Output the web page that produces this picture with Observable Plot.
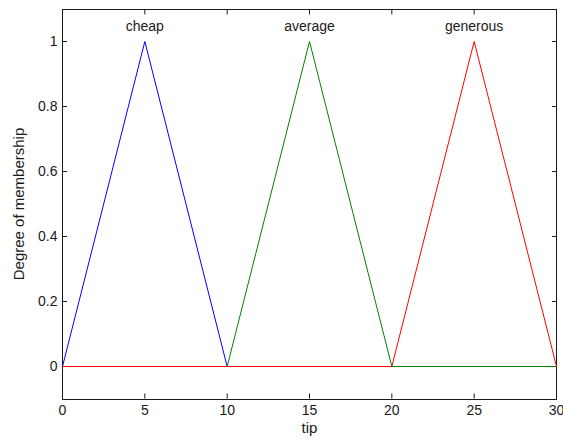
<!DOCTYPE html>
<html>
<head>
<meta charset="utf-8">
<script src="https://cdn.jsdelivr.net/npm/d3@7"></script>
<script src="https://cdn.jsdelivr.net/npm/@observablehq/plot@0.6"></script>
<style>
  html, body { margin: 0; padding: 0; background: #fff; }
  #chart svg { display: block; }
</style>
</head>
<body>
<div id="chart"></div>
<script>
// Membership function breakpoints (tip, degree)
const cheapX = [0, 5, 10, 30];
const cheapY = [0, 1, 0, 0];
const averageX = [0, 10, 15, 20, 30];
const averageY = [0, 0, 1, 0, 0];
const generousX = [0, 20, 25, 30];
const generousY = [0, 0, 1, 0];

const mfNames = ["cheap", "average", "generous"];
const mfPeaks = [5, 15, 25];
const mfColors = ["#0000ff", "#008000", "#ff0000"];

const xTicks = [0, 5, 10, 15, 20, 25, 30];
const yTicks = [0, 0.2, 0.4, 0.6, 0.8, 1];

const toPts = (xs, ys) => xs.map((x, i) => ({x, y: ys[i]}));
const cheap = toPts(cheapX, cheapY);
const average = toPts(averageX, averageY);
const generous = toPts(generousX, generousY);
const labels = mfNames.map((name, i) => ({name, x: mfPeaks[i], y: 1.045}));

const fontFamily = "'Liberation Sans', Arial, sans-serif";

const chart = Plot.plot({
  width: 563,
  height: 441,
  marginLeft: 62,
  marginRight: 7,
  marginTop: 8.5,
  marginBottom: 42.5,
  style: {fontFamily, fontSize: "14px", color: "#1a1a1a", background: "#fff"},
  x: {domain: [0, 30]},
  y: {domain: [-0.1, 1.1]},
  marks: [
    Plot.frame({stroke: "#1a1a1a", strokeWidth: 1, shapeRendering: "crispEdges"}),
    Plot.axisX(xTicks, {anchor: "bottom", tickSize: -5, tickPadding: 11, fontSize: 14, label: null}),
    Plot.axisX({anchor: "bottom", ticks: [], label: "tip", labelAnchor: "center", labelOffset: 34, labelArrow: false, fontSize: 15}),
    Plot.axisX(xTicks, {anchor: "top", tickSize: -5, tickFormat: () => "", label: null}),
    Plot.axisY(yTicks, {anchor: "left", tickSize: -5, tickPadding: 10, tickFormat: d => String(d), fontSize: 14, label: null}),
    Plot.axisY({anchor: "left", ticks: [], label: "Degree of membership", labelAnchor: "center", labelOffset: 49, labelArrow: false, fontSize: 15}),
    Plot.axisY(yTicks, {anchor: "right", tickSize: -5, tickFormat: () => "", label: null}),
    Plot.line(cheap, {x: "x", y: "y", stroke: mfColors[0], strokeWidth: 1}),
    Plot.line(average, {x: "x", y: "y", stroke: mfColors[1], strokeWidth: 1}),
    Plot.line(generous, {x: "x", y: "y", stroke: mfColors[2], strokeWidth: 1}),
    Plot.text(labels, {x: "x", y: "y", text: "name", fontSize: 14, fill: "#1a1a1a"})
  ]
});
document.getElementById("chart").appendChild(chart);
</script>
</body>
</html>
